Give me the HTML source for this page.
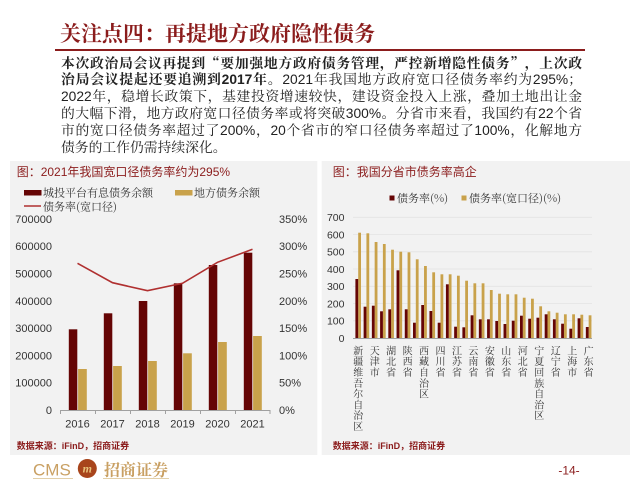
<!DOCTYPE html>
<html><head><meta charset="utf-8">
<style>
html,body{margin:0;padding:0;background:#fff;}
body{width:640px;height:480px;position:relative;overflow:hidden;}
.title{position:absolute;left:60px;top:23px;font-family:"Liberation Serif","Noto Serif CJK SC",serif;font-size:21px;line-height:22px;color:#8b1c1c;font-weight:700;white-space:nowrap;}
.rule{position:absolute;left:55px;top:49px;width:530px;height:1.6px;background:#8b1c1c;}
.ln{position:absolute;left:61px;width:521px;font-family:"Liberation Sans","Noto Serif CJK SC",serif;font-size:13.8px;line-height:17px;color:#222;text-align:justify;text-align-last:justify;white-space:normal;}
.ln.last{text-align-last:left;}
b{font-weight:700;}
.cj{font-family:"Noto Serif CJK SC",serif;}
svg{position:absolute;left:0;top:0;}
</style></head><body>
<svg width="640" height="480" viewBox="0 0 640 480" xmlns="http://www.w3.org/2000/svg">
<rect x="10" y="161" width="307.3" height="294" fill="#f2f2f2"/>
<rect x="321.7" y="161" width="308.3" height="294" fill="#f2f2f2"/>

<!-- LEFT CHART -->
<text x="16.7" y="176" font-family="Liberation Sans, Noto Sans CJK SC, sans-serif" font-size="12" fill="#8b1c1c">图：2021年我国宽口径债务率约为295%</text>
<rect x="24" y="190" width="17.5" height="5.5" fill="#650505"/>
<text x="43" y="196.5" font-family="Noto Serif CJK SC, serif" font-size="11" fill="#333">城投平台有息债务余额</text>
<rect x="175" y="190" width="17.5" height="5.5" fill="#c9a24b"/>
<text x="194" y="196.5" font-family="Noto Serif CJK SC, serif" font-size="11" fill="#333">地方债务余额</text>
<line x1="24" y1="206" x2="41" y2="206" stroke="#b03030" stroke-width="1.5"/>
<text x="43" y="210.5" font-family="Noto Serif CJK SC, serif" font-size="11" fill="#333">债务率(宽口径)</text>

<g font-family="Liberation Sans, sans-serif" font-size="11" fill="#333">
<g text-anchor="end">
<text x="52" y="414">0</text>
<text x="52" y="386.7">100000</text>
<text x="52" y="359.4">200000</text>
<text x="52" y="332.1">300000</text>
<text x="52" y="304.8">400000</text>
<text x="52" y="277.5">500000</text>
<text x="52" y="250.2">600000</text>
<text x="52" y="222.9">700000</text>
</g>
<text x="279" y="414">0%</text>
<text x="279" y="386.7">50%</text>
<text x="279" y="359.4">100%</text>
<text x="279" y="332.1">150%</text>
<text x="279" y="304.8">200%</text>
<text x="279" y="277.5">250%</text>
<text x="279" y="250.2">300%</text>
<text x="279" y="222.9">350%</text>
<g text-anchor="middle">
<text x="77.5" y="427.5">2016</text>
<text x="112.5" y="427.5">2017</text>
<text x="147.5" y="427.5">2018</text>
<text x="182.5" y="427.5">2019</text>
<text x="217.5" y="427.5">2020</text>
<text x="252.5" y="427.5">2021</text>
</g>
</g>
<g fill="#650505">
<rect x="68.8" y="329.3" width="8.5" height="80.7"/>
<rect x="103.8" y="313.3" width="8.5" height="96.7"/>
<rect x="138.8" y="301" width="8.5" height="109"/>
<rect x="173.8" y="283.3" width="8.5" height="126.7"/>
<rect x="208.8" y="265" width="8.5" height="145"/>
<rect x="243.8" y="252.7" width="8.5" height="157.3"/>
</g>
<g fill="#c9a24b">
<rect x="78.1" y="369" width="8.7" height="41"/>
<rect x="113.1" y="366" width="8.7" height="44"/>
<rect x="148.1" y="361" width="8.7" height="49"/>
<rect x="183.1" y="353.3" width="8.7" height="56.7"/>
<rect x="218.1" y="342" width="8.7" height="68"/>
<rect x="253.1" y="336" width="8.7" height="74"/>
</g>
<polyline points="77.5,263.3 112.5,282.7 147.5,290.7 182.5,283.3 217.5,262.3 252.5,249.3" fill="none" stroke="#b03030" stroke-width="1.6"/>
<g stroke="#a0a0a0" stroke-width="1">
<line x1="60" y1="410.5" x2="270" y2="410.5"/>
<line x1="60.5" y1="410" x2="60.5" y2="414"/>
<line x1="95.5" y1="410" x2="95.5" y2="414"/>
<line x1="130.5" y1="410" x2="130.5" y2="414"/>
<line x1="165.5" y1="410" x2="165.5" y2="414"/>
<line x1="200.5" y1="410" x2="200.5" y2="414"/>
<line x1="235.5" y1="410" x2="235.5" y2="414"/>
<line x1="270" y1="410" x2="270" y2="414"/>
</g>
<text x="16.7" y="449" font-family="Liberation Sans, Noto Sans CJK SC, sans-serif" font-size="9" font-weight="700" fill="#8b1c1c">数据来源：iFinD，招商证券</text>

<!-- RIGHT CHART -->
<text x="332.7" y="176" font-family="Liberation Sans, Noto Sans CJK SC, sans-serif" font-size="12" fill="#8b1c1c">图：我国分省市债务率高企</text>
<rect x="389.5" y="195.5" width="5" height="5" fill="#650505"/>
<text x="397" y="202" font-family="Noto Serif CJK SC, serif" font-size="11" fill="#333">债务率(%)</text>
<rect x="461.5" y="195.5" width="5" height="5" fill="#c9a24b"/>
<text x="469" y="202" font-family="Noto Serif CJK SC, serif" font-size="11" fill="#333">债务率(宽口径)(%)</text>

<g stroke="#e3e3e3" stroke-width="0.8">
<line x1="353" y1="320.8" x2="592" y2="320.8"/>
<line x1="353" y1="303.5" x2="592" y2="303.5"/>
<line x1="353" y1="286.3" x2="592" y2="286.3"/>
<line x1="353" y1="269" x2="592" y2="269"/>
<line x1="353" y1="251.8" x2="592" y2="251.8"/>
<line x1="353" y1="234.6" x2="592" y2="234.6"/>
<line x1="353" y1="217.3" x2="592" y2="217.3"/>
</g>
<g font-family="Liberation Sans, sans-serif" font-size="10.5" fill="#333" text-anchor="end">
<text x="344.5" y="341.8">0</text>
<text x="344.5" y="324.6">100</text>
<text x="344.5" y="307.3">200</text>
<text x="344.5" y="290.1">300</text>
<text x="344.5" y="272.8">400</text>
<text x="344.5" y="255.6">500</text>
<text x="344.5" y="238.4">600</text>
<text x="344.5" y="221.1">700</text>
</g>
<g fill="#c9a24b">
<rect x="358.2" y="232.7" width="2.8" height="105.3"/>
<rect x="366.43" y="233.3" width="2.8" height="104.7"/>
<rect x="374.66" y="242" width="2.8" height="96"/>
<rect x="382.89" y="244" width="2.8" height="94"/>
<rect x="391.12" y="249.7" width="2.8" height="88.3"/>
<rect x="399.35" y="251.7" width="2.8" height="86.3"/>
<rect x="407.58" y="252.3" width="2.8" height="85.7"/>
<rect x="415.81" y="259.3" width="2.8" height="78.7"/>
<rect x="424.04" y="266" width="2.8" height="72"/>
<rect x="432.27" y="272.3" width="2.8" height="65.7"/>
<rect x="440.5" y="274.3" width="2.8" height="63.7"/>
<rect x="448.73" y="274.3" width="2.8" height="63.7"/>
<rect x="456.96" y="275.7" width="2.8" height="62.3"/>
<rect x="465.19" y="280.7" width="2.8" height="57.3"/>
<rect x="473.42" y="283.3" width="2.8" height="54.7"/>
<rect x="481.65" y="283.3" width="2.8" height="54.7"/>
<rect x="489.88" y="290" width="2.8" height="48"/>
<rect x="498.11" y="293.7" width="2.8" height="44.3"/>
<rect x="506.34" y="294.3" width="2.8" height="43.7"/>
<rect x="514.57" y="294.3" width="2.8" height="43.7"/>
<rect x="522.8" y="297.7" width="2.8" height="40.3"/>
<rect x="531.03" y="298.7" width="2.8" height="39.3"/>
<rect x="539.26" y="306.3" width="2.8" height="31.7"/>
<rect x="547.49" y="311.3" width="2.8" height="26.7"/>
<rect x="555.72" y="312.7" width="2.8" height="25.3"/>
<rect x="563.95" y="314.3" width="2.8" height="23.7"/>
<rect x="572.18" y="314.3" width="2.8" height="23.7"/>
<rect x="580.41" y="314.7" width="2.8" height="23.3"/>
<rect x="588.64" y="315.3" width="2.8" height="22.7"/>
</g>
<g fill="#650505">
<rect x="355.4" y="279" width="2.8" height="59"/>
<rect x="363.63" y="306.7" width="2.8" height="31.3"/>
<rect x="371.86" y="305.7" width="2.8" height="32.3"/>
<rect x="380.09" y="311.3" width="2.8" height="26.7"/>
<rect x="388.32" y="309.3" width="2.8" height="28.7"/>
<rect x="396.55" y="270.3" width="2.8" height="67.7"/>
<rect x="404.78" y="309.3" width="2.8" height="28.7"/>
<rect x="413.01" y="322.7" width="2.8" height="15.3"/>
<rect x="421.24" y="305" width="2.8" height="33"/>
<rect x="429.47" y="311" width="2.8" height="27"/>
<rect x="437.7" y="322.7" width="2.8" height="15.3"/>
<rect x="445.93" y="284.3" width="2.8" height="53.7"/>
<rect x="454.16" y="326.7" width="2.8" height="11.3"/>
<rect x="462.39" y="327.3" width="2.8" height="10.7"/>
<rect x="470.62" y="315.3" width="2.8" height="22.7"/>
<rect x="478.85" y="319.3" width="2.8" height="18.7"/>
<rect x="487.08" y="319.3" width="2.8" height="18.7"/>
<rect x="495.31" y="321" width="2.8" height="17"/>
<rect x="503.54" y="324" width="2.8" height="14"/>
<rect x="511.77" y="320.7" width="2.8" height="17.3"/>
<rect x="520" y="315.7" width="2.8" height="22.3"/>
<rect x="528.23" y="318.7" width="2.8" height="19.3"/>
<rect x="536.46" y="317.7" width="2.8" height="20.3"/>
<rect x="544.69" y="314.3" width="2.8" height="23.7"/>
<rect x="552.92" y="319.3" width="2.8" height="18.7"/>
<rect x="561.15" y="323.7" width="2.8" height="14.3"/>
<rect x="569.38" y="328.7" width="2.8" height="9.3"/>
<rect x="577.61" y="318.3" width="2.8" height="19.7"/>
<rect x="585.84" y="327" width="2.8" height="11"/>
</g>
<line x1="353" y1="338.5" x2="592" y2="338.5" stroke="#a0a0a0" stroke-width="1"/>

<g font-family="Noto Serif CJK SC, serif" font-size="10" fill="#333" text-anchor="middle">
<text><tspan x="358.2" y="354.4">新</tspan><tspan x="358.2" y="365.2">疆</tspan><tspan x="358.2" y="376">维</tspan><tspan x="358.2" y="386.8">吾</tspan><tspan x="358.2" y="397.6">尔</tspan><tspan x="358.2" y="408.4">自</tspan><tspan x="358.2" y="419.2">治</tspan><tspan x="358.2" y="430">区</tspan></text>
<text><tspan x="374.7" y="354.4">天</tspan><tspan x="374.7" y="365.2">津</tspan><tspan x="374.7" y="376">市</tspan></text>
<text><tspan x="391.1" y="354.4">湖</tspan><tspan x="391.1" y="365.2">北</tspan><tspan x="391.1" y="376">省</tspan></text>
<text><tspan x="407.6" y="354.4">陕</tspan><tspan x="407.6" y="365.2">西</tspan><tspan x="407.6" y="376">省</tspan></text>
<text><tspan x="424" y="354.4">西</tspan><tspan x="424" y="365.2">藏</tspan><tspan x="424" y="376">自</tspan><tspan x="424" y="386.8">治</tspan><tspan x="424" y="397.6">区</tspan></text>
<text><tspan x="440.5" y="354.4">四</tspan><tspan x="440.5" y="365.2">川</tspan><tspan x="440.5" y="376">省</tspan></text>
<text><tspan x="457" y="354.4">江</tspan><tspan x="457" y="365.2">苏</tspan><tspan x="457" y="376">省</tspan></text>
<text><tspan x="473.4" y="354.4">云</tspan><tspan x="473.4" y="365.2">南</tspan><tspan x="473.4" y="376">省</tspan></text>
<text><tspan x="489.9" y="354.4">安</tspan><tspan x="489.9" y="365.2">徽</tspan><tspan x="489.9" y="376">省</tspan></text>
<text><tspan x="506.3" y="354.4">山</tspan><tspan x="506.3" y="365.2">东</tspan><tspan x="506.3" y="376">省</tspan></text>
<text><tspan x="522.8" y="354.4">河</tspan><tspan x="522.8" y="365.2">北</tspan><tspan x="522.8" y="376">省</tspan></text>
<text><tspan x="539.3" y="354.4">宁</tspan><tspan x="539.3" y="365.2">夏</tspan><tspan x="539.3" y="376">回</tspan><tspan x="539.3" y="386.8">族</tspan><tspan x="539.3" y="397.6">自</tspan><tspan x="539.3" y="408.4">治</tspan><tspan x="539.3" y="419.2">区</tspan></text>
<text><tspan x="555.7" y="354.4">辽</tspan><tspan x="555.7" y="365.2">宁</tspan><tspan x="555.7" y="376">省</tspan></text>
<text><tspan x="572.2" y="354.4">上</tspan><tspan x="572.2" y="365.2">海</tspan><tspan x="572.2" y="376">市</tspan></text>
<text><tspan x="588.6" y="354.4">广</tspan><tspan x="588.6" y="365.2">东</tspan><tspan x="588.6" y="376">省</tspan></text>
</g>
<text x="332.7" y="449" font-family="Liberation Sans, Noto Sans CJK SC, sans-serif" font-size="9" font-weight="700" fill="#8b1c1c">数据来源：iFinD，招商证券</text>

<!-- FOOTER -->
<text x="33" y="475.5" font-family="Liberation Sans, sans-serif" font-size="17" fill="#c9a063">CMS</text>
<circle cx="87.3" cy="468.5" r="9.5" fill="#a8451c"/>
<text x="87.3" y="472.5" text-anchor="middle" font-family="Liberation Serif, serif" font-style="italic" font-weight="700" font-size="12" fill="#e8c27a">m</text>
<text x="104" y="475.5" font-family="Noto Serif CJK SC, serif" font-weight="700" font-size="16" fill="#c9a063">招商证券</text>
<line x1="33" y1="478.5" x2="73" y2="478.5" stroke="#e2cfa8" stroke-width="1"/>
<line x1="103" y1="478.5" x2="169" y2="478.5" stroke="#e2cfa8" stroke-width="1"/>
<text x="569" y="474.5" text-anchor="middle" font-family="Liberation Sans, sans-serif" font-size="12" fill="#8b1c1c">-14-</text>
</svg>

<div class="title">关注点四：再提地方政府隐性债务</div>
<div class="rule"></div>
<div class="ln" style="top:54px;"><b>本次政治局会议再提到<span class="cj">“</span>要加强地方政府债务管理，严控新增隐性债务<span class="cj">”</span>，上次政</b></div>
<div class="ln" style="top:71px;"><b>治局会议提起还要追溯到2017年。</b>2021年我国地方政府宽口径债务率约为295%；</div>
<div class="ln" style="top:88px;">2022年，稳增长政策下，基建投资增速较快，建设资金投入上涨，叠加土地出让金</div>
<div class="ln" style="top:105px;">的大幅下滑，地方政府宽口径债务率或将突破300%。分省市来看，我国约有22个省</div>
<div class="ln" style="top:122px;">市的宽口径债务率超过了200%，20个省市的窄口径债务率超过了100%，化解地方</div>
<div class="ln last" style="top:139px;">债务的工作仍需持续深化。</div>
</body></html>
